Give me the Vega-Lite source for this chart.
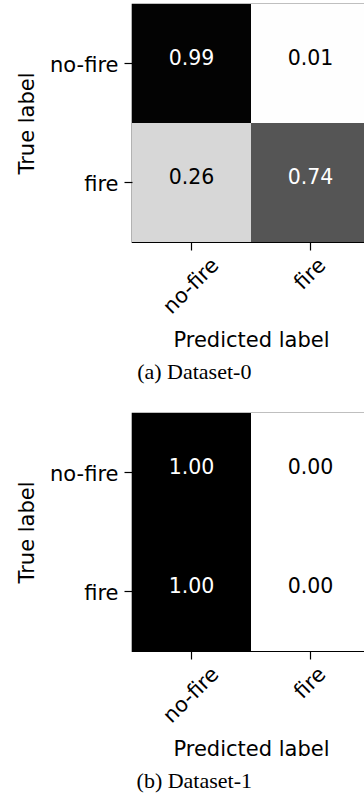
{
  "$schema": "https://vega.github.io/schema/vega-lite/v6.json",
  "padding": {"left": 15, "top": 3, "right": 0, "bottom": 0},
  "background": "white",
  "datasets": {
    "d0": [
      {"true": "no-fire", "pred": "no-fire", "value": 0.99},
      {"true": "no-fire", "pred": "fire", "value": 0.01},
      {"true": "fire", "pred": "no-fire", "value": 0.26},
      {"true": "fire", "pred": "fire", "value": 0.74}
    ],
    "d1": [
      {"true": "no-fire", "pred": "no-fire", "value": 1.0},
      {"true": "no-fire", "pred": "fire", "value": 0.0},
      {"true": "fire", "pred": "no-fire", "value": 1.0},
      {"true": "fire", "pred": "fire", "value": 0.0}
    ]
  },
  "config": {
    "font": "DejaVu Sans",
    "view": {"stroke": "#000", "strokeWidth": 1.2},
    "axis": {
      "labelFont": "DejaVu Sans",
      "labelFontSize": 21,
      "labelColor": "#000",
      "titleFont": "DejaVu Sans",
      "titleFontSize": 21,
      "titleFontWeight": "normal",
      "titleColor": "#000",
      "tickSize": 8,
      "tickColor": "#000",
      "tickWidth": 1.2,
      "domain": false,
      "grid": false
    },
    "title": {
      "font": "Liberation Serif",
      "fontSize": 22,
      "fontWeight": "normal",
      "color": "#000",
      "orient": "bottom",
      "anchor": "middle",
      "frame": "bounds"
    }
  },
  "spacing": 28,
  "vconcat": [
    {
      "title": {"text": "(a) Dataset-0", "dx": 1, "offset": 12},
      "width": 238,
      "height": 238,
      "data": {"name": "d0"},
      "encoding": {
        "x": {"field": "pred", "type": "nominal", "sort": ["no-fire", "fire"],
          "title": "Predicted label",
          "axis": {"labelAngle": -45, "labelAlign": "center", "labelBaseline": "middle",
            "labelPadding": {"condition": {"test": "datum.value === 'no-fire'", "value": 36}, "value": 24},
            "titlePadding": 12}},
        "y": {"field": "true", "type": "nominal", "sort": ["no-fire", "fire"],
          "title": "True label",
          "axis": {"labelPadding": 6, "labelOffset": 2, "titlePadding": 12}}
      },
      "layer": [
        {"mark": {"type": "rect"},
          "encoding": {"color": {"field": "value", "type": "quantitative",
            "scale": {"domain": [0, 0.125, 0.25, 0.375, 0.5, 0.625, 0.75, 0.875, 1],
              "range": ["#ffffff", "#f0f0f0", "#d9d9d9", "#bdbdbd", "#969696", "#737373", "#525252", "#252525", "#000000"],
              "interpolate": "rgb"},
            "legend": null}}},
        {"mark": {"type": "text", "fontSize": 20.5, "font": "DejaVu Sans", "baseline": "middle", "dy": -5},
          "encoding": {"text": {"field": "value", "type": "quantitative", "format": ".2f"},
            "color": {"condition": {"test": "datum.value > 0.5", "value": "#ffffff"}, "value": "#000000"}}}
      ]
    },
    {
      "title": {"text": "(b) Dataset-1", "dx": 1, "offset": 12},
      "width": 238,
      "height": 238,
      "data": {"name": "d1"},
      "encoding": {
        "x": {"field": "pred", "type": "nominal", "sort": ["no-fire", "fire"],
          "title": "Predicted label",
          "axis": {"labelAngle": -45, "labelAlign": "center", "labelBaseline": "middle",
            "labelPadding": {"condition": {"test": "datum.value === 'no-fire'", "value": 36}, "value": 24},
            "titlePadding": 12}},
        "y": {"field": "true", "type": "nominal", "sort": ["no-fire", "fire"],
          "title": "True label",
          "axis": {"labelPadding": 6, "labelOffset": 2, "titlePadding": 12}}
      },
      "layer": [
        {"mark": {"type": "rect"},
          "encoding": {"color": {"field": "value", "type": "quantitative",
            "scale": {"domain": [0, 0.125, 0.25, 0.375, 0.5, 0.625, 0.75, 0.875, 1],
              "range": ["#ffffff", "#f0f0f0", "#d9d9d9", "#bdbdbd", "#969696", "#737373", "#525252", "#252525", "#000000"],
              "interpolate": "rgb"},
            "legend": null}}},
        {"mark": {"type": "text", "fontSize": 20.5, "font": "DejaVu Sans", "baseline": "middle", "dy": -5},
          "encoding": {"text": {"field": "value", "type": "quantitative", "format": ".2f"},
            "color": {"condition": {"test": "datum.value > 0.5", "value": "#ffffff"}, "value": "#000000"}}}
      ]
    }
  ]
}
